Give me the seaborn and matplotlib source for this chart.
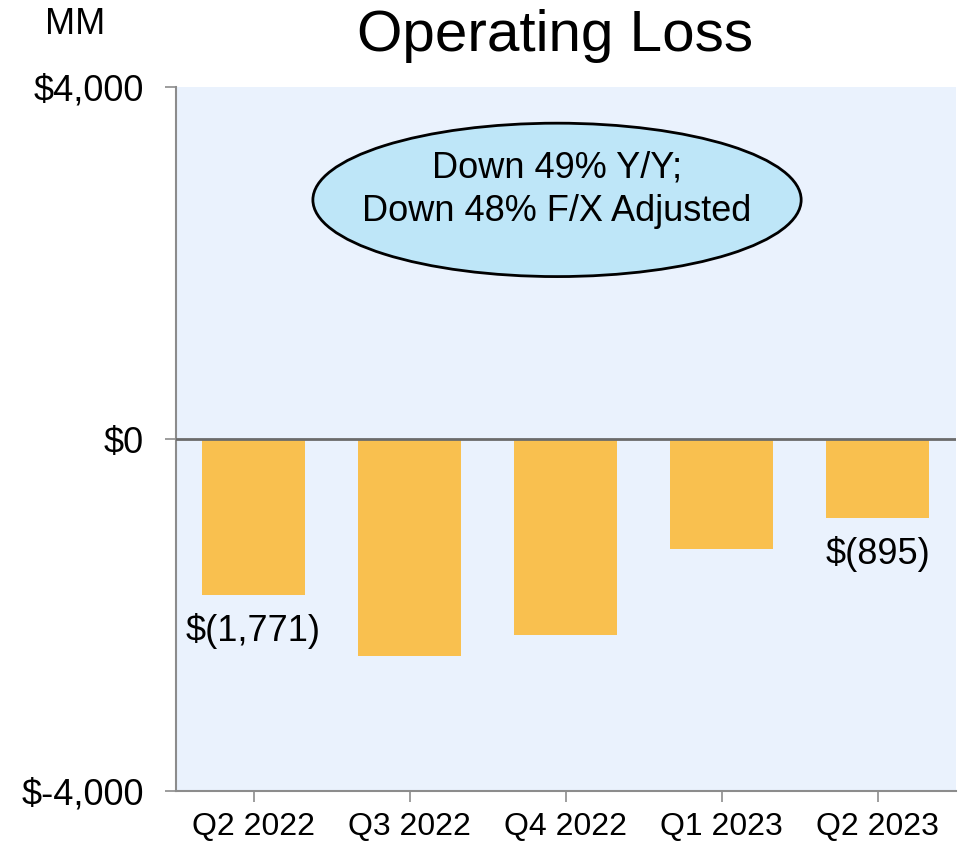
import matplotlib
matplotlib.use("Agg")
import matplotlib.pyplot as plt
import seaborn as sns
from matplotlib.patches import Ellipse

quarters = ["Q2 2022", "Q3 2022", "Q4 2022", "Q1 2023", "Q2 2023"]
op_loss = [-1771, -2466, -2228, -1247, -895]
labelled = {0: "$(1,771)", 4: "$(895)"}
y_ticks = [-4000, 0, 4000]

sns.set_theme(style="white")
plt.rcParams["font.family"] = ["Liberation Sans", "DejaVu Sans"]
plt.rcParams["text.color"] = "black"

fig = plt.figure(figsize=(9.58, 8.41), dpi=100)
ax = fig.add_axes([0.1833, 0.0595, 0.8142, 0.8367])
ax.set_facecolor("#eaf2fd")

sns.barplot(x=quarters, y=op_loss, color="#f9c04f", saturation=1,
            width=0.66, linewidth=0, ax=ax)
ax.set_xlim(-0.5, 4.5)
ax.set_ylim(-4000, 4000)
ax.axhline(0, color="#6b6b6b", lw=2, zorder=3)

# value labels under first and last bar
for i, txt in labelled.items():
    ax.annotate(txt, (i, op_loss[i]), xytext=(0, -13), textcoords="offset points",
                ha="center", va="top", fontsize=26, color="black")

ax.set_yticks(y_ticks)
ax.set_yticklabels([f"${v:,.0f}" for v in y_ticks])
ax.tick_params(axis="y", labelsize=26, length=8, width=1.2, color="#8c8c8c",
               direction="out", left=True, pad=15, labelcolor="black")
ax.tick_params(axis="x", labelsize=23, length=8, width=1.2, color="#8c8c8c",
               direction="out", bottom=True, pad=7, labelcolor="black")
ax.set_xlabel("")
ax.set_ylabel("")

for s in ["top", "right"]:
    ax.spines[s].set_visible(False)
for s in ["left", "bottom"]:
    ax.spines[s].set_color("#8c8c8c")
    ax.spines[s].set_linewidth(1.5)

# callout bubble
ell = Ellipse((0.489, 0.84), 0.626, 0.218, transform=ax.transAxes,
              facecolor="#bee6f8", edgecolor="black", lw=2, zorder=4)
ax.add_patch(ell)
ax.text(0.489, 0.886, "Down 49% Y/Y;", transform=ax.transAxes, ha="center",
        va="center", fontsize=26, color="black", zorder=5)
ax.text(0.489, 0.823, "Down 48% F/X Adjusted", transform=ax.transAxes,
        ha="center", va="center", fontsize=26, color="black", zorder=5)

fig.text(555 / 958, 1 - 36 / 841, "Operating Loss", ha="center", va="center",
         fontsize=42, color="black")
fig.text(75 / 958, 1 - 25 / 841, "MM", ha="center", va="center", fontsize=26,
         color="black")

fig.savefig("out.png", dpi=100)
plt.close(fig)
